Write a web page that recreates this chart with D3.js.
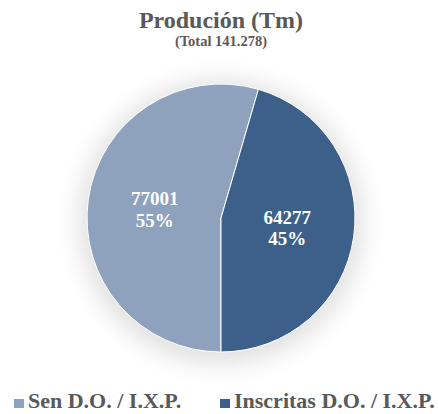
<!DOCTYPE html>
<html>
<head>
<meta charset="utf-8">
<script src="https://cdn.jsdelivr.net/npm/d3@7"></script>
<style>
  body { margin: 0; background: #fff; }
  text { font-family: "Liberation Serif", "DejaVu Serif", serif; font-weight: bold; }
</style>
</head>
<body>
<script>
const categories = ["Sen D.O. / I.X.P.", "Inscritas D.O. / I.X.P."];
const values = [77001, 64277];
const colors = ["#8fa2bd", "#3c6089"];
const title = "Produción (Tm)";
const subtitle = "(Total 141.278)";

const width = 438, height = 414;
const cx = 221, cy = 218, r = 134;

const svg = d3.select("body").append("svg")
    .attr("width", width)
    .attr("height", height);

// soft shadow round the pie
const defs = svg.append("defs");
defs.append("filter")
    .attr("id", "blur")
    .attr("x", "-50%").attr("y", "-50%")
    .attr("width", "200%").attr("height", "200%")
  .append("feGaussianBlur")
    .attr("stdDeviation", 12);

svg.append("circle")
    .attr("cx", cx)
    .attr("cy", cy + 4)
    .attr("r", r + 8)
    .attr("fill", "#000")
    .attr("opacity", 0.12)
    .attr("filter", "url(#blur)");

const total = d3.sum(values);
const pie = d3.pie()
    .sort(null)
    .startAngle(Math.PI)
    .endAngle(Math.PI * 3);
const arc = d3.arc().innerRadius(0).outerRadius(r);

const g = svg.append("g").attr("transform", `translate(${cx},${cy})`);

const slices = g.selectAll("g")
  .data(pie(values))
  .join("g");

slices.append("path")
    .attr("d", arc)
    .attr("fill", (d, i) => colors[i])
    .attr("stroke", "#fff")
    .attr("stroke-width", 1);

slices.append("text")
    .attr("transform", d => `translate(${arc.centroid(d)})`)
    .attr("text-anchor", "middle")
    .attr("fill", "#fff")
    .attr("font-size", 19)
    .call(t => t.append("tspan")
        .attr("x", 0)
        .attr("dy", "-0.2em")
        .text(d => d.data))
    .call(t => t.append("tspan")
        .attr("x", 0)
        .attr("dy", "1.15em")
        .text(d => Math.round(d.data / total * 100) + "%"));

svg.append("text")
    .attr("x", cx)
    .attr("y", 28)
    .attr("text-anchor", "middle")
    .attr("fill", "#595959")
    .attr("font-size", 24)
    .text(title);

svg.append("text")
    .attr("x", cx)
    .attr("y", 46)
    .attr("text-anchor", "middle")
    .attr("fill", "#595959")
    .attr("font-size", 14.5)
    .text(subtitle);

// legend
const legendX = [14, 220];
const legend = svg.selectAll(".legend")
  .data(categories)
  .join("g")
    .attr("class", "legend")
    .attr("transform", (d, i) => `translate(${legendX[i]},408)`);

legend.append("rect")
    .attr("x", 0)
    .attr("y", -9)
    .attr("width", 10)
    .attr("height", 9)
    .attr("fill", (d, i) => colors[i]);

legend.append("text")
    .attr("x", 14)
    .attr("y", 0)
    .attr("fill", "#595959")
    .attr("font-size", 22)
    .text(d => d);
</script>
</body>
</html>
